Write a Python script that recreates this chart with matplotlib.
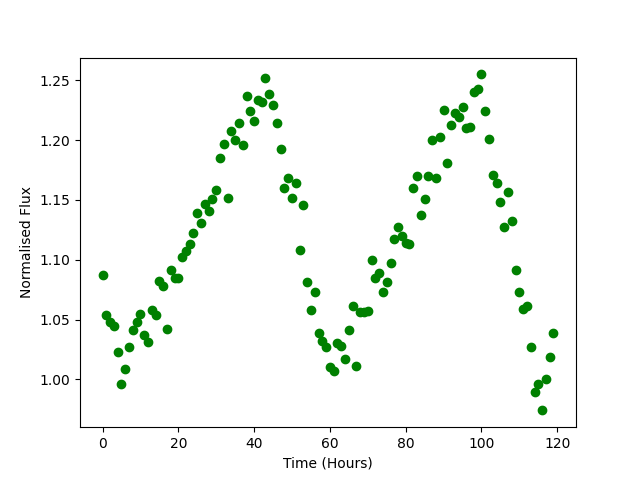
import matplotlib
matplotlib.use("Agg")
import matplotlib.pyplot as plt
import numpy as np

hours = list(range(120))
flux = [1.087, 1.054, 1.048, 1.045, 1.023, 0.996, 1.009, 1.027, 1.041, 1.048,
        1.055, 1.037, 1.031, 1.058, 1.054, 1.082, 1.078, 1.042, 1.091, 1.085,
        1.085, 1.102, 1.107, 1.113, 1.122, 1.139, 1.131, 1.147, 1.141, 1.151,
        1.158, 1.185, 1.197, 1.152, 1.208, 1.200, 1.214, 1.196, 1.237, 1.224,
        1.216, 1.234, 1.232, 1.252, 1.239, 1.229, 1.214, 1.193, 1.160, 1.168,
        1.152, 1.164, 1.108, 1.146, 1.081, 1.058, 1.073, 1.039, 1.032, 1.027,
        1.010, 1.007, 1.030, 1.028, 1.017, 1.041, 1.061, 1.011, 1.056, 1.056,
        1.057, 1.100, 1.085, 1.089, 1.073, 1.081, 1.097, 1.117, 1.127, 1.120,
        1.114, 1.113, 1.160, 1.170, 1.137, 1.151, 1.170, 1.200, 1.168, 1.203,
        1.225, 1.181, 1.213, 1.223, 1.219, 1.228, 1.210, 1.211, 1.240, 1.243,
        1.255, 1.224, 1.201, 1.171, 1.164, 1.148, 1.127, 1.157, 1.132, 1.091,
        1.073, 1.059, 1.061, 1.027, 0.989, 0.996, 0.974, 1.000, 1.019, 1.039]

fig, ax = plt.subplots(figsize=(6.4, 4.8), dpi=100)
ax.plot(hours, flux, 'o', color='green')
ax.set_xlabel('Time (Hours)')
ax.set_ylabel('Normalised Flux')
fig.savefig('out.png')
